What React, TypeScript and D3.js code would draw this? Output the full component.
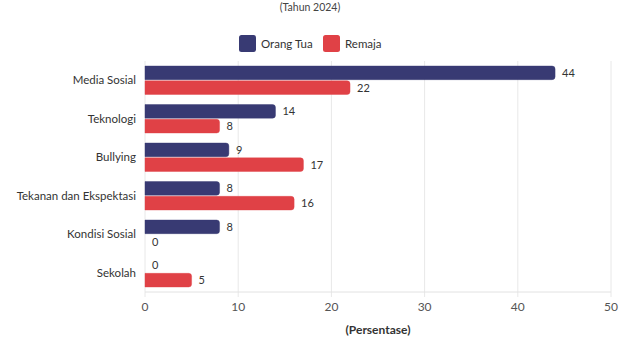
import React from "react";
import * as d3 from "d3";

const categories = ["Media Sosial", "Teknologi", "Bullying", "Tekanan dan Ekspektasi", "Kondisi Sosial", "Sekolah"];
const seriesNames = ["Orang Tua", "Remaja"];
const orangTua = [44, 14, 9, 8, 8, 0];
const remaja = [22, 8, 17, 16, 0, 5];
const xTicks = [0, 10, 20, 30, 40, 50];
const colors = ["#383a73", "#e04146"];

const W = 620, H = 348;
const left = 145, right = 611, top = 61, bottom = 292;
const font = "Lato, 'Open Sans', sans-serif";

export default function App() {
  const x = d3.scaleLinear().domain([0, 50]).range([left, right]);
  const y = d3.scaleBand<string>().domain(categories).range([top, bottom]).paddingInner(0.26).paddingOuter(0.13);
  const sub = d3.scaleBand<string>().domain(seriesNames).range([0, y.bandwidth()]).paddingInner(0.08);
  const series = [orangTua, remaja];
  const barPath = (x0: number, x1: number, y0: number, h: number, r: number) => {
    const w = x1 - x0;
    if (w <= 0) return "";
    const rr = Math.min(r, w, h / 2);
    return `M${x0},${y0}H${x1 - rr}Q${x1},${y0} ${x1},${y0 + rr}V${y0 + h - rr}Q${x1},${y0 + h} ${x1 - rr},${y0 + h}H${x0}Z`;
  };
  return (
    <svg width={W} height={H} style={{ position: "absolute", left: 0, top: 0, background: "#fff" }} fontFamily={font}>
      <text x={310} y={11} textAnchor="middle" fontSize={10.5} fill="#444">(Tahun 2024)</text>
      {seriesNames.map((s, i) => {
        const lx = i === 0 ? 239 : 323;
        return (
          <g key={s}>
            <rect x={lx} y={35} width={17} height={17} rx={2.5} fill={colors[i]} />
            <text x={lx + 22} y={47.5} fontSize={11.5} fill="#333">{s}</text>
          </g>
        );
      })}
      {xTicks.map((t) => (
        <g key={t}>
          <line x1={x(t)} x2={x(t)} y1={top} y2={bottom + 5} stroke="#e8e8e8" strokeWidth={1} />
          <text x={x(t)} y={311} textAnchor="middle" fontSize={12} fill="#555">{t}</text>
        </g>
      ))}
      <line x1={left} x2={right} y1={bottom} y2={bottom} stroke="#e2e2e2" />
      {categories.map((c, ci) => (
        <g key={c}>
          <text x={136} y={(y(c) as number) + y.bandwidth() / 2 + 4} textAnchor="end" fontSize={11.5} fill="#333">{c}</text>
          {series.map((vals, si) => {
            const y0 = (y(c) as number) + (sub(seriesNames[si]) as number);
            const h = sub.bandwidth();
            const v = vals[ci];
            return (
              <g key={si}>
                <path d={barPath(x(0), x(v), y0, h, 3)} fill={colors[si]} stroke={colors[si]} strokeOpacity={0.5} strokeWidth={0.8} />
                <text x={x(v) + 7} y={y0 + h / 2 + 4} fontSize={11} fill="#333">{v}</text>
              </g>
            );
          })}
        </g>
      ))}
      <text x={(left + right) / 2} y={334} textAnchor="middle" fontSize={12} fontWeight="bold" fill="#333">(Persentase)</text>
    </svg>
  );
}
